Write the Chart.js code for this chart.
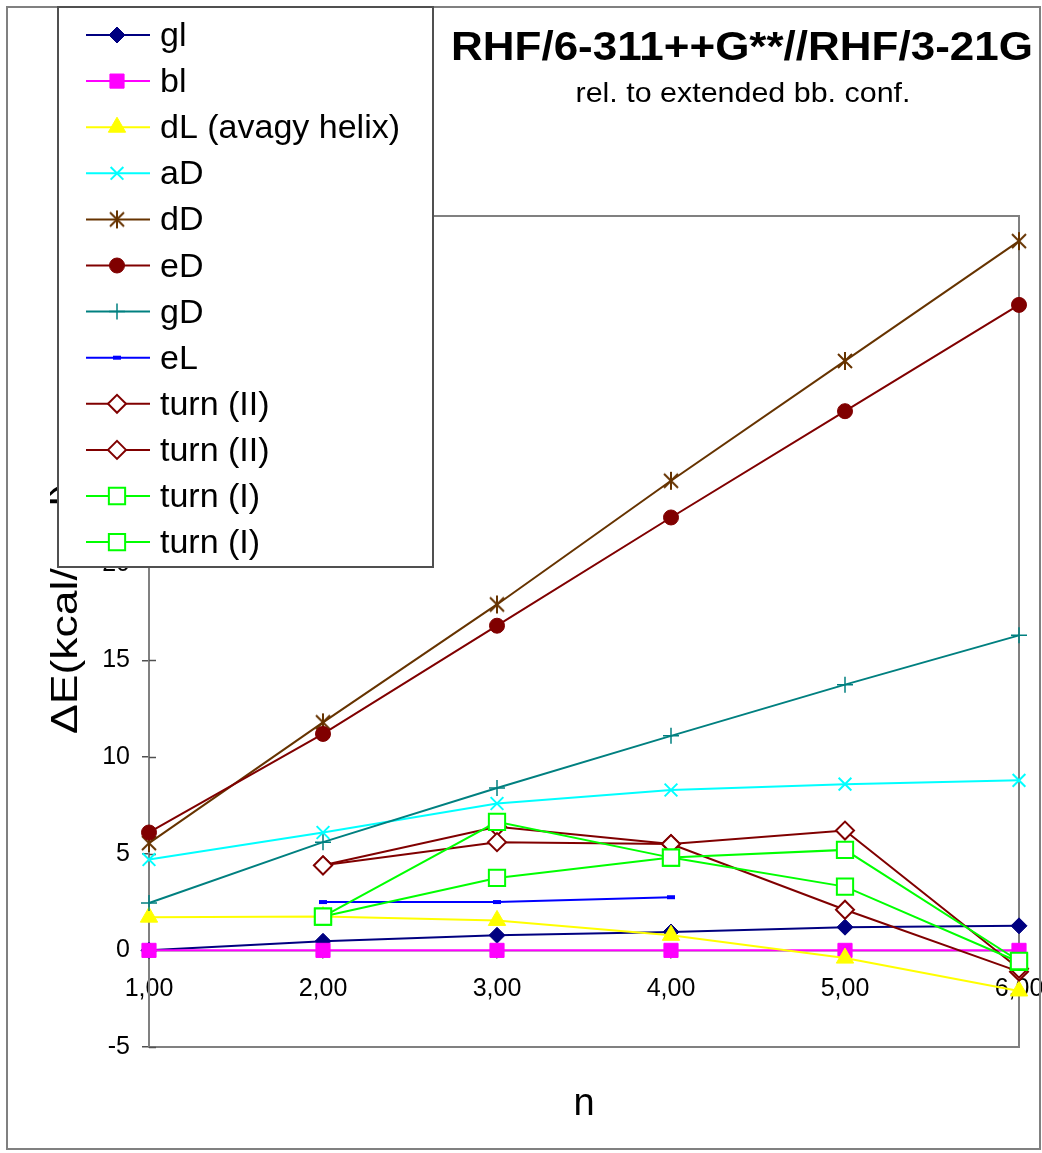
<!DOCTYPE html>
<html><head><meta charset="utf-8">
<script src="https://cdn.jsdelivr.net/npm/chart.js@4.4.0/dist/chart.umd.min.js"></script>
<style>html,body{margin:0;padding:0;background:#fff}canvas{display:block}</style>
</head><body>
<canvas id="c" width="1042" height="1153"></canvas>
<script>
// ---- data ----
const categories = ['1,00', '2,00', '3,00', '4,00', '5,00', '6,00'];
const seriesNames = ['gl', 'bl', 'dL (avagy helix)', 'aD', 'dD', 'eD', 'gD', 'eL', 'turn (II)', 'turn (II)', 'turn (I)', 'turn (I)'];
const gl = [0, 0.47, 0.78, 0.95, 1.2, 1.27];
const bl = [0, 0, 0, 0, 0, 0];
const dL = [1.72, 1.75, 1.55, 0.78, -0.4, -2.1];
const aD = [4.7, 6.1, 7.6, 8.3, 8.6, 8.8];
const dD = [5.55, 11.8, 17.9, 24.3, 30.5, 36.7];
const eD = [6.1, 11.2, 16.8, 22.4, 27.9, 33.4];
const gD = [2.45, 5.6, 8.4, 11.1, 13.75, 16.3];
const eL = [null, 2.5, 2.5, 2.75, null, null];
const turnII_a = [null, 4.4, 6.4, 5.5, 2.1, -1.1];
const turnII_b = [null, 4.4, 5.6, 5.5, 6.2, -0.95];
const turnI_a = [null, 1.75, 6.65, 4.8, 3.3, -0.6];
const turnI_b = [null, 1.75, 3.75, 4.8, 5.2, -0.55];
const yMin = -5, yMax = 38, yStep = 5;
const titleText = 'RHF/6-311++G**//RHF/3-21G';
const subtitleText = 'rel. to extended bb. conf.';
const yTitleText = '\u0394E(kcal/mol)';
const xTitleText = 'n';

const seriesValues = [gl, bl, dL, aD, dD, eD, gD, eL, turnII_a, turnII_b, turnI_a, turnI_b];

// ---- styles ----
const FONT = '"Liberation Sans", Arial, sans-serif';
const lineColors = ['#000080', '#FF00FF', '#FFFF00', '#00FFFF', '#663300', '#800000', '#008080', '#0000FF', '#800000', '#800000', '#00FF00', '#00FF00'];
const fillColors = ['#000080', '#FF00FF', '#FFFF00', '#00FFFF', '#663300', '#800000', '#008080', '#0000FF', '#FFFFFF', '#FFFFFF', '#FFFFFF', '#FFFFFF'];

// asterisk marker (vertical + X), like the spreadsheet "*" marker
function makeAsterisk(color) {
  const c = document.createElement('canvas');
  c.width = 22; c.height = 22;
  const g = c.getContext('2d');
  g.strokeStyle = color; g.lineWidth = 2; g.lineCap = 'butt';
  g.beginPath();
  g.moveTo(11, 2); g.lineTo(11, 20);
  g.moveTo(4, 4); g.lineTo(18, 18);
  g.moveTo(18, 4); g.lineTo(4, 18);
  g.stroke();
  return c;
}
const asterisk = makeAsterisk('#663300');

const pStyles = ['rectRot', 'rect', 'triangle', 'crossRot', asterisk, 'circle', 'cross', 'line', 'rectRot', 'rectRot', 'rect', 'rect'];
const pRadii = [8, 10, 10, 9, 9, 7.5, 8, 4, 9, 9, 11.5, 11.5];
const pBorder = [1, 1, 1, 2, 2, 1, 1.5, 4, 2, 2, 2, 2];

const datasets = seriesValues.map((vals, i) => ({
  label: seriesNames[i],
  data: vals,
  borderColor: lineColors[i],
  backgroundColor: fillColors[i],
  borderWidth: 2,
  pointStyle: pStyles[i],
  pointRadius: pRadii[i],
  pointHoverRadius: pRadii[i],
  pointBorderWidth: pBorder[i],
  pointBackgroundColor: fillColors[i],
  pointBorderColor: lineColors[i],
  tension: 0,
  spanGaps: false,
  clip: false,
  order: -i
}));

function stretchText(ctx, text, x, y, font, width, align) {
  ctx.save();
  ctx.font = font;
  ctx.fillStyle = '#000';
  const w = ctx.measureText(text).width;
  const s = width ? width / w : 1;
  ctx.translate(x, y);
  ctx.scale(s, 1);
  ctx.textAlign = align;
  ctx.textBaseline = 'alphabetic';
  ctx.fillText(text, 0, 0);
  ctx.restore();
}

const decor = {
  id: 'decor',
  beforeDraw(chart) {
    const ctx = chart.ctx;
    ctx.save();
    ctx.fillStyle = '#fff';
    ctx.fillRect(0, 0, chart.width, chart.height);
    ctx.restore();
  },
  beforeDatasetsDraw(chart) {
    const ctx = chart.ctx, a = chart.chartArea, ys = chart.scales.y;
    ctx.save();
    ctx.strokeStyle = '#808080';
    ctx.lineWidth = 2;
    ctx.strokeRect(a.left, a.top, a.right - a.left, a.bottom - a.top);
    // inner half of the crossing tick marks on the value axis
    ctx.strokeStyle = '#505050';
    ctx.lineWidth = 1.5;
    ys.ticks.forEach(t => {
      const py = Math.round(ys.getPixelForValue(t.value)) + 0.5;
      ctx.beginPath();
      ctx.moveTo(a.left, py);
      ctx.lineTo(a.left + 7, py);
      ctx.stroke();
    });
    ctx.restore();
  },
  afterDraw(chart) {
    const ctx = chart.ctx;
    // outer frame
    ctx.save();
    ctx.strokeStyle = '#808080';
    ctx.lineWidth = 2;
    ctx.strokeRect(7, 7, 1033, 1142);
    ctx.restore();
    // titles
    stretchText(ctx, titleText, 742, 60, 'bold 40px ' + FONT, 582, 'center');
    stretchText(ctx, subtitleText, 743, 102, '28px ' + FONT, 335, 'center');
    // x title
    ctx.save();
    ctx.font = '38px ' + FONT;
    ctx.fillStyle = '#000';
    ctx.textAlign = 'center';
    ctx.textBaseline = 'alphabetic';
    ctx.fillText(xTitleText, 584, 1115);
    ctx.restore();
    // y title
    ctx.save();
    ctx.font = '36px ' + FONT;
    ctx.fillStyle = '#000';
    const part = ctx.measureText('\u0394E(kcal/m').width;
    const sy = 203 / part;
    ctx.translate(77, 734);
    ctx.rotate(-Math.PI / 2);
    ctx.scale(sy, 1);
    ctx.textAlign = 'left';
    ctx.textBaseline = 'alphabetic';
    ctx.fillText(yTitleText, 0, 0);
    ctx.restore();
    // legend box
    const L = 58, T = 7, R = 433, B = 567;
    ctx.save();
    ctx.fillStyle = '#fff';
    ctx.fillRect(L, T, R - L, B - T);
    ctx.strokeStyle = '#505050';
    ctx.lineWidth = 2;
    ctx.strokeRect(L, T, R - L, B - T);
    chart.data.datasets.forEach((ds, i) => {
      const yRow = 35 + i * 46.1;
      ctx.strokeStyle = ds.borderColor;
      ctx.lineWidth = 2;
      ctx.beginPath();
      ctx.moveTo(86, yRow);
      ctx.lineTo(150, yRow);
      ctx.stroke();
      ctx.fillStyle = ds.pointBackgroundColor;
      ctx.strokeStyle = ds.pointBorderColor;
      ctx.lineWidth = ds.pointBorderWidth;
      Chart.helpers.drawPoint(ctx, {pointStyle: ds.pointStyle, radius: ds.pointRadius, borderWidth: ds.pointBorderWidth, rotation: 0}, 117, yRow);
      ctx.fillStyle = '#000';
      ctx.font = '34px ' + FONT;
      ctx.textAlign = 'left';
      ctx.textBaseline = 'alphabetic';
      ctx.fillText(ds.label, 160, yRow + 11);
    });
    ctx.restore();
  }
};

new Chart(document.getElementById('c'), {
  type: 'line',
  data: {labels: categories, datasets: datasets},
  plugins: [decor],
  options: {
    responsive: false,
    animation: false,
    devicePixelRatio: 1,
    events: [],
    layout: {padding: {left: 0, top: 216, right: 23, bottom: 106}},
    plugins: {legend: {display: false}, title: {display: false}, tooltip: {enabled: false}},
    scales: {
      x: {
        type: 'category',
        position: {y: 0},
        offset: false,
        grid: {display: true, drawOnChartArea: false, drawTicks: true, tickLength: 7, color: '#505050', lineWidth: 1.5, offset: false},
        border: {display: true, color: '#808080', width: 1.5},
        ticks: {font: {family: FONT, size: 25}, color: '#000', padding: 17, maxRotation: 0, autoSkip: false},
        afterFit(s) { s.paddingLeft = 0; s.paddingRight = 0; }
      },
      y: {
        type: 'linear',
        position: 'left',
        min: yMin,
        max: yMax,
        ticks: {stepSize: yStep, includeBounds: false, font: {family: FONT, size: 25}, color: '#000', padding: 12},
        grid: {drawOnChartArea: false, drawTicks: true, tickLength: 7, color: '#505050', lineWidth: 1.5},
        border: {display: true, color: '#808080', width: 2},
        afterFit(s) { s.width = 149; s.paddingTop = 0; s.paddingBottom = 0; }
      }
    }
  }
});
</script>
</body></html>
